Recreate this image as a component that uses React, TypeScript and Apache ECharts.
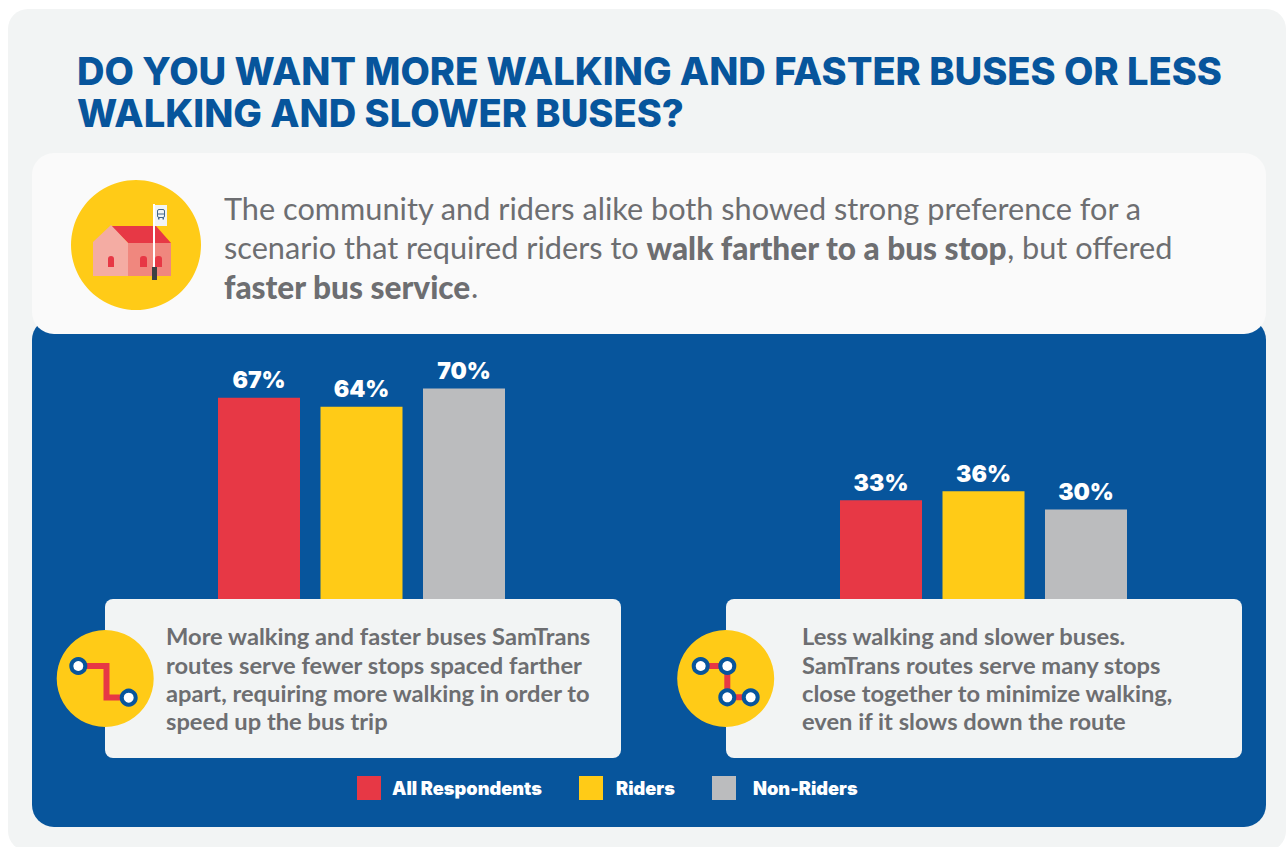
import React, { useEffect, useRef } from "react";
import * as echarts from "echarts";

const categories = ["More walking and faster buses", "Less walking and slower buses"];
const allRespondents = [67, 33];
const riders = [64, 36];
const nonRiders = [70, 30];
const seriesNames = ["All Respondents", "Riders", "Non-Riders"];
const titleLines = "DO YOU WANT MORE WALKING AND FASTER BUSES OR LESS\nWALKING AND SLOWER BUSES?";
const introText =
  "The community and riders alike both showed strong preference for a\nscenario that required riders to {b|walk farther to a bus stop}, but offered\n{b|faster bus service}.";
const leftNote =
  "More walking and faster buses SamTrans\nroutes serve fewer stops spaced farther\napart, requiring more walking in order to\nspeed up the bus trip";
const rightNote =
  "Less walking and slower buses.\nSamTrans routes serve many stops\nclose together to minimize walking,\neven if it slows down the route";

const BLUE = "#07559c";
const YELLOW = "#ffcb17";
const RED = "#e73845";
const GRAY = "#bbbcbe";
const TEXT = "#6d6e71";
const PANEL = "#f2f4f4";
const FONT = "Lato";
const HEAVY = "Inter";

function stopMark(x: number, y: number) {
  return { type: "circle", z: 12, shape: { cx: x, cy: y, r: 7 }, style: { fill: "#fff", stroke: BLUE, lineWidth: 4 } };
}

function routeLine(points: number[][], lineWidth: number) {
  return { type: "polyline", z: 11, shape: { points }, style: { stroke: RED, lineWidth, fill: "none" } };
}

export default function App() {
  const ref = useRef<HTMLDivElement>(null);
  useEffect(() => {
    document.body.style.margin = "0";
    const chart = echarts.init(ref.current!, undefined, { renderer: "svg" });
    const label = {
      show: true,
      position: "top" as const,
      formatter: "{c}%",
      color: "#fff",
      fontFamily: HEAVY,
      fontWeight: 900,
      fontSize: 23,
      distance: 6,
    };
    const bar = (name: string, data: number[], color: string) => ({
      name,
      type: "bar" as const,
      data,
      barWidth: 82,
      barGap: "25%",
      itemStyle: { color },
      label,
    });
    const legend = (name: string, left: number, pad: number) => ({
      data: [name],
      left,
      top: 776,
      itemWidth: 24,
      itemHeight: 24,
      icon: "rect",
      selectedMode: false,
      padding: 0,
      textStyle: { color: "#fff", fontFamily: HEAVY, fontWeight: 900, fontSize: 18.2, padding: [0, 0, 0, pad] },
    });
    chart.setOption({
      animation: false,
      backgroundColor: "#fff",
      grid: { left: 50.5, width: 1244, top: 298, height: 302, outerBoundsMode: "none" },
      xAxis: { type: "category", data: categories, show: false },
      yAxis: { type: "value", min: 0, max: 100, show: false },
      legend: [legend(seriesNames[0], 357, 6), legend(seriesNames[1], 579, 8), legend(seriesNames[2], 712, 12)],
      series: [bar(seriesNames[0], allRespondents, RED), bar(seriesNames[1], riders, YELLOW), bar(seriesNames[2], nonRiders, GRAY)],
      graphic: {
        elements: [
          { type: "rect", z: -5, shape: { x: 8, y: 9, width: 1278, height: 842, r: 20 }, style: { fill: PANEL } },
          { type: "rect", z: -4, shape: { x: 32, y: 318, width: 1234, height: 509, r: 22 }, style: { fill: BLUE } },
          { type: "rect", z: -3, shape: { x: 32, y: 153, width: 1234, height: 181, r: 22 }, style: { fill: "#fafafa" } },
          { type: "text", z: 5, x: 77, y: 50, style: { text: titleLines, fill: BLUE, font: `800 38.1px ${HEAVY}`, lineHeight: 42 } },
          { type: "text", z: 5, x: 224, y: 189, style: { text: introText, fill: TEXT, font: `400 30.7px ${FONT}`, lineHeight: 39, rich: { b: { font: `900 31.6px ${FONT}`, fill: TEXT, lineHeight: 39 } } } },
          // intro icon
          { type: "circle", z: 5, shape: { cx: 136, cy: 245, r: 65 }, style: { fill: YELLOW } },
          { type: "polygon", z: 6, shape: { points: [[111, 226], [156, 226], [171, 243], [128, 243]] }, style: { fill: RED } },
          { type: "polygon", z: 6, shape: { points: [[93, 242], [111, 225], [128, 243], [128, 276], [93, 276]] }, style: { fill: "#f4aca3" } },
          { type: "rect", z: 6, shape: { x: 128, y: 243, width: 43, height: 33 }, style: { fill: "#f0877e" } },
          { type: "rect", z: 7, shape: { x: 108, y: 256, width: 6, height: 11, r: [3, 3, 0, 0] }, style: { fill: RED } },
          { type: "rect", z: 7, shape: { x: 140, y: 256, width: 7, height: 11, r: [3, 3, 0, 0] }, style: { fill: RED } },
          { type: "rect", z: 7, shape: { x: 155, y: 256, width: 7, height: 11, r: [3, 3, 0, 0] }, style: { fill: RED } },
          { type: "rect", z: 8, shape: { x: 153, y: 204, width: 2, height: 68 }, style: { fill: "#fff" } },
          { type: "rect", z: 8, shape: { x: 152, y: 267, width: 5, height: 13 }, style: { fill: "#3d4043" } },
          { type: "rect", z: 8, shape: { x: 155, y: 205, width: 12, height: 21 }, style: { fill: PANEL } },
          { type: "rect", z: 9, shape: { x: 157.5, y: 209.5, width: 7, height: 8, r: 1.5 }, style: { fill: "none", stroke: "#45688a", lineWidth: 1 } },
          { type: "line", z: 9, shape: { x1: 157.5, y1: 214, x2: 164.5, y2: 214 }, style: { stroke: "#45688a", lineWidth: 1 } },
          { type: "rect", z: 9, shape: { x: 158, y: 217.5, width: 1.5, height: 2 }, style: { fill: "#45688a" } },
          { type: "rect", z: 9, shape: { x: 162.5, y: 217.5, width: 1.5, height: 2 }, style: { fill: "#45688a" } },
          // note cards
          { type: "rect", z: 10, shape: { x: 105, y: 599, width: 516, height: 159, r: 8 }, style: { fill: PANEL } },
          { type: "rect", z: 10, shape: { x: 726, y: 599, width: 516, height: 159, r: 8 }, style: { fill: PANEL } },
          { type: "text", z: 12, x: 166, y: 622, style: { text: leftNote, fill: TEXT, font: `700 23.7px ${FONT}`, lineHeight: 28.4 } },
          { type: "text", z: 12, x: 802, y: 622, style: { text: rightNote, fill: TEXT, font: `700 23.7px ${FONT}`, lineHeight: 28.4 } },
          // left route icon
          { type: "circle", z: 10, shape: { cx: 105.2, cy: 678.5, r: 48.5 }, style: { fill: YELLOW } },
          routeLine([[78, 666], [106.5, 666], [106.5, 697.5], [128, 697.5]], 6),
          stopMark(78.3, 666),
          stopMark(128.7, 697.7),
          // right route icon
          { type: "circle", z: 10, shape: { cx: 725.7, cy: 678.5, r: 48.5 }, style: { fill: YELLOW } },
          routeLine([[700.7, 666], [727.3, 666], [727.3, 697.3], [750.7, 697.3]], 6),
          stopMark(700.7, 666),
          stopMark(727.3, 666),
          stopMark(727.3, 697.3),
          stopMark(750.7, 697.3),
        ],
      },
    });
    return () => chart.dispose();
  }, []);
  return <div ref={ref} style={{ width: 1286, height: 847 }} />;
}
